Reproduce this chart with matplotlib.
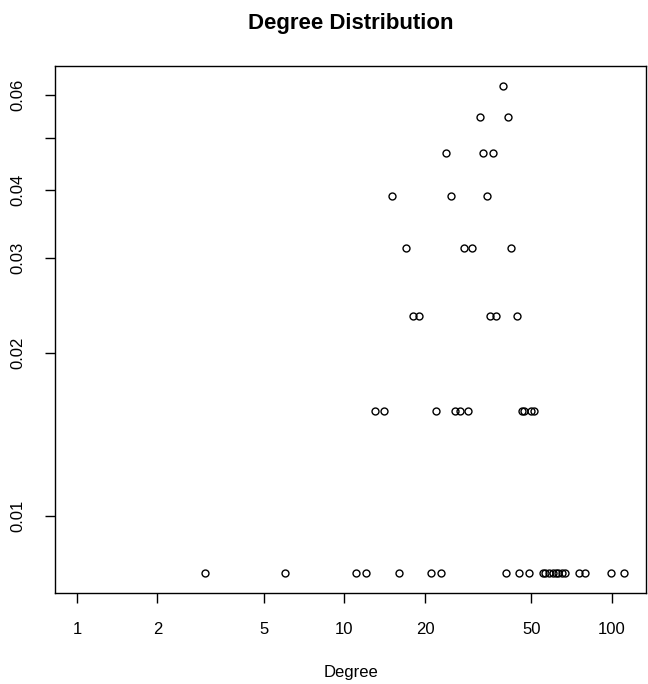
import numpy as np
import matplotlib
matplotlib.use('Agg')
import matplotlib.pyplot as plt
from matplotlib.ticker import FixedLocator, FixedFormatter, NullLocator

plt.rcParams['font.family'] = ['Liberation Sans', 'DejaVu Sans']

n_nodes = 128

# degrees grouped by how many nodes have them (prob = count / n_nodes)
deg_c1 = [3, 6, 11, 12, 16, 21, 23, 40, 45, 49, 55, 56, 58, 60, 62, 63, 65, 67, 75, 79, 99, 111]
deg_c2 = [13, 14, 22, 26, 27, 29, 46, 47, 50, 51]
deg_c3 = [18, 19, 35, 37, 44]
deg_c4 = [17, 28, 30, 42]
deg_c5 = [15, 25, 34]
deg_c6 = [24, 33, 36]
deg_c7 = [32, 41]
deg_c8 = [39]

groups = [deg_c1, deg_c2, deg_c3, deg_c4, deg_c5, deg_c6, deg_c7, deg_c8]
deg = []
prob = []
for k, g in enumerate(groups, start=1):
    for d in g:
        deg.append(d)
        prob.append(k / n_nodes)
deg = np.array(deg)
prob = np.array(prob)

xticks = [1, 2, 5, 10, 20, 50, 100]
yticks = [0.01, 0.02, 0.03, 0.04, 0.05, 0.06]
ylabels = ['0.01', '0.02', '0.03', '0.04', '', '0.06']

fig = plt.figure(figsize=(6.48, 6.84), dpi=100)
ax = fig.add_axes([55 / 648, 1 - 593 / 684, 591 / 648, 527 / 684])

ax.plot(deg, prob, 'o', mfc='none', mec='black', ms=5, mew=1.0)
ax.set_xscale('log')
ax.set_yscale('log')

# R style 4% padding on log range, x from 1
lx = np.log10([1, deg.max()])
r = lx[1] - lx[0]
ax.set_xlim(10 ** (lx[0] - 0.04 * r), 10 ** (lx[1] + 0.04 * r))
ly = np.log10([prob.min(), prob.max()])
r = ly[1] - ly[0]
ax.set_ylim(10 ** (ly[0] - 0.04 * r), 10 ** (ly[1] + 0.04 * r))

ax.xaxis.set_major_locator(FixedLocator(xticks))
ax.xaxis.set_major_formatter(FixedFormatter([str(t) for t in xticks]))
ax.xaxis.set_minor_locator(NullLocator())
ax.yaxis.set_major_locator(FixedLocator(yticks))
ax.yaxis.set_major_formatter(FixedFormatter(ylabels))
ax.yaxis.set_minor_locator(NullLocator())

ax.tick_params(axis='both', length=7, width=1, labelsize=12, pad=14, color='black')
for lab in ax.get_yticklabels():
    lab.set_rotation(90)
    lab.set_va('center')
for s in ax.spines.values():
    s.set_linewidth(1)

ax.set_title('Degree Distribution', fontsize=16, fontweight='bold', pad=27)
ax.set_xlabel('Degree', fontsize=12, labelpad=20)

fig.savefig('out.png', dpi=100)
